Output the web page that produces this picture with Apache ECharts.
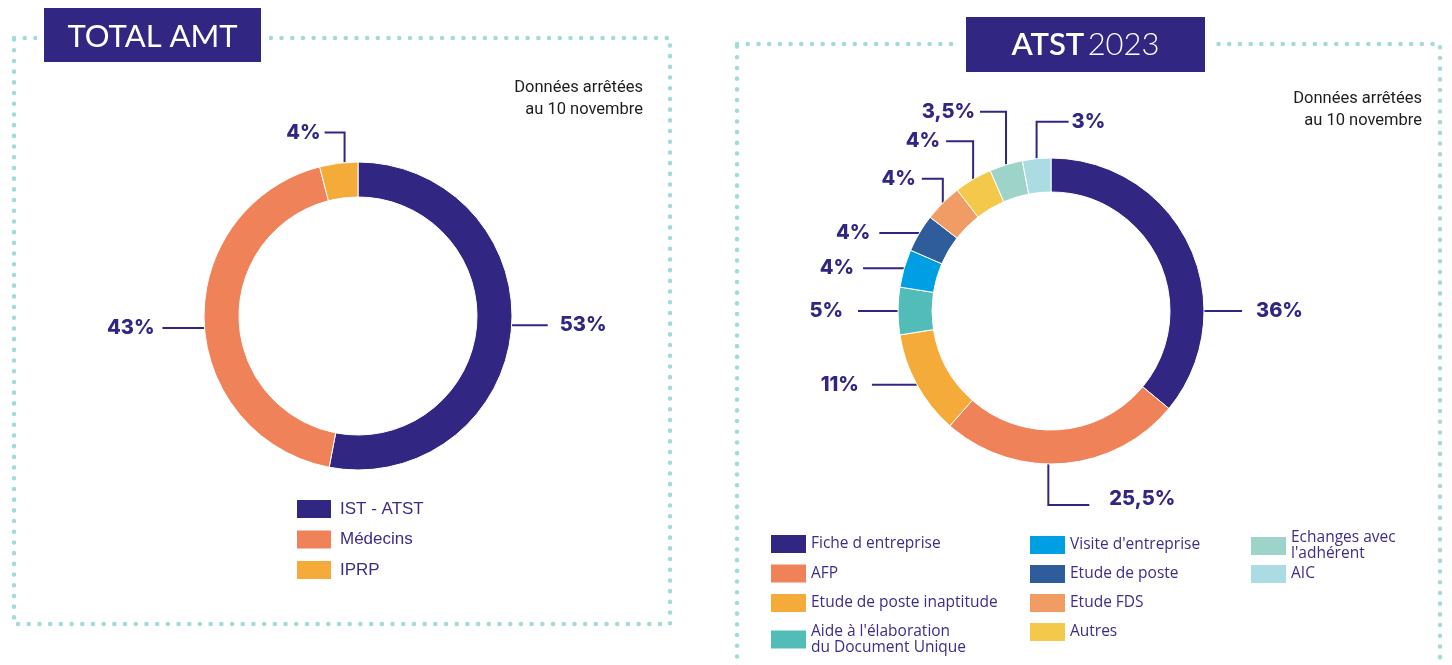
<!DOCTYPE html>
<html>
<head>
<meta charset="utf-8">
<script src="https://cdn.jsdelivr.net/npm/echarts@6/dist/echarts.min.js"></script>
<style>
  html, body { margin: 0; padding: 0; background: #fff; }
  #chart { width: 1452px; height: 665px; }
</style>
</head>
<body>
<div id="chart"></div>
<script>
  // TOTAL AMT
  var amtNames = ['IST - ATST', 'Médecins', 'IPRP'];
  var amtValues = [53, 43, 4];

  // ATST 2023
  var atstNames = ['Fiche d entreprise', 'AFP', 'Etude de poste inaptitude',
    "Aide à l'élaboration du Document Unique", "Visite d'entreprise", 'Etude de poste',
    'Etude FDS', 'Autres', "Echanges avec l'adhérent", 'AIC'];
  var atstValues = [36, 25.5, 11, 5, 4, 4, 4, 4, 3.5, 3];

  var amtColors = ['#312783', '#f08259', '#f5ab39'];
  var atstColors = ['#312783', '#f08259', '#f5ab39', '#52bcb9', '#009fe3',
    '#2f5d9b', '#f19c65', '#f3c84b', '#9dd3c8', '#acdce3'];

  var navy = '#312783';
  var dots = '#a3dbdb';

  // traits des étiquettes : côté, montée/descente, longueur, écart
  var amtLeaders = [
    { side: 1, len: 36, gap: 12, at: 93.4 },
    { side: -1, len: 42, gap: 8, at: 265.5 },
    { side: -1, up: 30, len: 20, gap: 4, at: 355 }
  ];
  var atstLeaders = [
    { side: 1, len: 38, gap: 14, at: 90 },
    { side: 1, down: 41, len: 41, gap: 20, dy: -6, at: 181 },
    { side: -1, len: 45, gap: 13 },
    { side: -1, len: 40, gap: 15 },
    { side: -1, len: 41, gap: 9 },
    { side: -1, len: 40, gap: 9 },
    { side: -1, up: 24, len: 21, gap: 6 },
    { side: -1, up: 38, len: 27, gap: 6 },
    { side: -1, up: 53, len: 26, gap: 5 },
    { side: 1, up: 37, len: 32, gap: 3 }
  ];

  var amtCenter = [358, 316], amtRadius = [119, 154];
  var atstCenter = [1051, 311], atstRadius = [119, 153];

  var lineBreaks = {
    "Aide à l'élaboration du Document Unique": "Aide à l'élaboration\ndu Document Unique",
    "Echanges avec l'adhérent": "Echanges avec\nl'adhérent"
  };

  function leaderLayout(specs, center, outer) {
    return function (p) {
      var s = specs[p.dataIndex];
      var a = p.labelLinePoints[0].slice();
      if (s.at != null) {
        var t = s.at * Math.PI / 180;
        a = [center[0] + outer * Math.sin(t), center[1] - outer * Math.cos(t)];
      }
      var b = [a[0], a[1] - (s.up || 0) + (s.down || 0)];
      var c = [b[0] + s.side * s.len, b[1]];
      return {
        x: c[0] + s.side * s.gap,
        y: c[1] + (s.dy || 0),
        align: s.side < 0 ? 'right' : 'left',
        verticalAlign: 'middle',
        labelLinePoints: [a, b, c]
      };
    };
  }

  function pieData(names, values, colors) {
    var out = [];
    for (var i = 0; i < names.length; i++) {
      out.push({ name: names[i], value: values[i], itemStyle: { color: colors[i] } });
    }
    return out;
  }

  function pieSeries(names, values, colors, center, radius, leaders) {
    return {
      type: 'pie',
      center: center,
      radius: radius,
      startAngle: 90,
      clockwise: true,
      avoidLabelOverlap: false,
      silent: true,
      itemStyle: { borderColor: '#fff', borderWidth: 1 },
      label: {
        show: true,
        position: 'outside',
        color: navy,
        fontFamily: 'Inter',
        fontWeight: 800,
        fontSize: 20,
        formatter: function (p) { return String(p.value).replace('.', ',') + '%'; }
      },
      labelLine: { show: true, smooth: false, lineStyle: { color: navy, width: 2 } },
      labelLayout: leaderLayout(leaders, center, radius[1]),
      data: pieData(names, values, colors)
    };
  }

  var legendBase = {
    orient: 'vertical',
    icon: 'rect',
    padding: 0,
    height: 200,
    selectedMode: false,
    itemStyle: { borderWidth: 0 }
  };

  function legend(names, left, top, extra) {
    return Object.assign({}, legendBase, { data: names, left: left, top: top }, extra);
  }

  var rightText = {
    color: '#3a2f88', fontFamily: 'Open Sans', fontSize: 15.5, lineHeight: 16
  };

  var myChart = echarts.init(document.getElementById('chart'));
  var option = {
    animation: false,
    graphic: [
      // cadres en pointillés
      { type: 'rect', z: 0, shape: { x: 14, y: 38, width: 656, height: 586 },
        style: { fill: 'none', stroke: dots, lineWidth: 4.5, lineDash: [0.1, 10.6], lineCap: 'round' } },
      { type: 'rect', z: 0, shape: { x: 737, y: 44, width: 703, height: 700 },
        style: { fill: 'none', stroke: dots, lineWidth: 4.5, lineDash: [0.1, 10.6], lineCap: 'round' } },
      { type: 'rect', z: 1, shape: { x: 37, y: 28, width: 232, height: 20 }, style: { fill: '#fff' } },
      { type: 'rect', z: 1, shape: { x: 958, y: 34, width: 255, height: 20 }, style: { fill: '#fff' } },
      // titres
      { type: 'rect', z: 2, shape: { x: 44, y: 8, width: 217, height: 54 }, style: { fill: navy } },
      { type: 'text', z: 3, x: 152.5, y: 37,
        style: { text: 'TOTAL AMT', fill: '#fff', fontFamily: 'Lato', fontSize: 31, align: 'center', verticalAlign: 'middle' } },
      { type: 'rect', z: 2, shape: { x: 966, y: 17, width: 239, height: 55 }, style: { fill: navy } },
      { type: 'text', z: 3, x: 1085.5, y: 45,
        style: {
          text: '{a|ATST} {b|2023}', fill: '#fff', align: 'center', verticalAlign: 'middle',
          rich: {
            a: { fill: '#fff', fontFamily: 'Lato', fontSize: 31, fontWeight: 600 },
            b: { fill: '#fff', fontFamily: 'Lato', fontSize: 31, fontWeight: 300 }
          }
        } },
      // notes
      { type: 'text', z: 3, x: 643, y: 77,
        style: { text: 'Données arrêtées\nau 10 novembre', fill: '#1d1d1b', fontFamily: 'Roboto', fontSize: 16.5,
          lineHeight: 22, align: 'right', verticalAlign: 'top' } },
      { type: 'text', z: 3, x: 1422, y: 88,
        style: { text: 'Données arrêtées\nau 10 novembre', fill: '#1d1d1b', fontFamily: 'Roboto', fontSize: 16.5,
          lineHeight: 22, align: 'right', verticalAlign: 'top' } }
    ],
    legend: [
      legend(amtNames, 297, 500, {
        itemWidth: 34, itemHeight: 18, itemGap: 12.5,
        textStyle: { color: '#3a2f88', fontFamily: 'Liberation Sans', fontSize: 17, lineHeight: 18, padding: [0, 0, 0, 4] }
      }),
      legend(atstNames.slice(0, 4), 771, 535, {
        itemWidth: 35, itemHeight: 18, itemGap: 11.5, textStyle: rightText,
        formatter: function (n) { return lineBreaks[n] || n; }
      }),
      legend(atstNames.slice(4, 8), 1030, 536, {
        itemWidth: 35, itemHeight: 18, itemGap: 11, textStyle: rightText
      }),
      legend(atstNames.slice(8), 1251, 530, {
        itemWidth: 35, itemHeight: 18, itemGap: 3, textStyle: rightText,
        formatter: function (n) { return lineBreaks[n] || n; }
      })
    ],
    series: [
      pieSeries(amtNames, amtValues, amtColors, amtCenter, amtRadius, amtLeaders),
      pieSeries(atstNames, atstValues, atstColors, atstCenter, atstRadius, atstLeaders)
    ]
  };
  myChart.setOption(option);
</script>
</body>
</html>
